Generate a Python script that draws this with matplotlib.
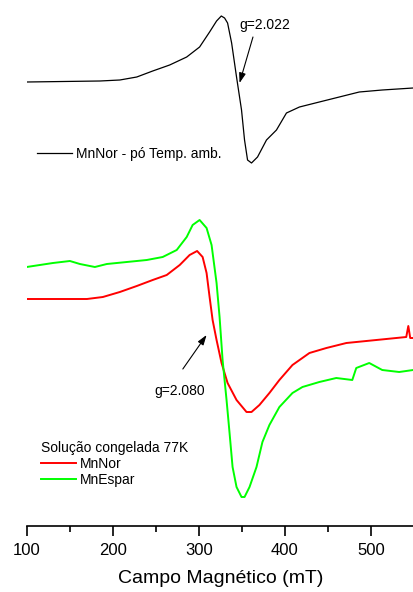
import matplotlib
matplotlib.use('Agg')
import matplotlib.pyplot as plt
from matplotlib.lines import Line2D

plt.rcParams['font.family'] = ['Liberation Sans', 'DejaVu Sans']

# Campo magnético (mT) and intensity (a.u., stacked offsets)
campo_po = [100, 185, 208.2, 227.9, 246.4, 266.1, 285.9, 300.9, 312.5, 320.6, 326.1,
            329.9, 333.4, 338.1, 343.8, 349.6, 353.1, 356.6, 361.2, 368.2, 378.6,
            390.2, 401.8, 416.9, 440, 463.2, 486.4, 513.1, 549]
mnnor_po = [444, 445, 446, 449, 455, 461, 469, 479, 494, 505, 510,
            508, 503, 483, 449, 416, 386, 366, 363, 369, 386,
            396, 413, 419, 424, 429, 434, 436, 438]

campo_nor = [100, 170, 188.5, 208.2, 227.9, 246.4, 262.7, 277.8, 289.3, 298, 304.4,
             309, 312.5, 316, 320.6, 326.4, 333.4, 343.8, 355.4, 361.2, 370.4, 382,
             393.6, 408.8, 428.5, 448.2, 471.4, 494.6, 517.8, 541, 543.4, 545.6, 549]
mnnor_sol = [227, 227, 229, 234, 240, 246, 251, 261, 271, 275, 269,
             253, 229, 206, 186, 163, 143, 126, 114, 114, 121, 133,
             146, 161, 173, 178, 183, 185, 187, 189, 200, 188, 188]

campo_esp = [100, 130.5, 150.2, 161.8, 179.2, 193.1, 216.3, 239.5, 258, 274.3, 285.9,
             292.8, 300.9, 309, 314.8, 320.6, 324.1, 327.6, 332.2, 335.7, 339.2, 343.8,
             349.6, 353.1, 358.9, 367, 373.9, 382, 393.6, 408.8, 420.4, 440, 459.7,
             478.3, 482.9, 498, 513.1, 532.8, 549]
mnespar_sol = [259, 263, 265, 262, 259, 262, 264, 266, 269, 276, 289,
               301, 306, 298, 281, 243, 209, 166, 126, 93, 59, 39,
               29, 29, 39, 59, 84, 101, 119, 133, 139, 144, 148,
               146, 158, 163, 156, 154, 156]

fig = plt.figure(figsize=(4.14, 5.92), dpi=100)
ax = fig.add_axes([26.7 / 414, 66 / 592, 1 - 26.7 / 414, 526 / 592])

ax.plot(campo_po, mnnor_po, color='black', lw=0.9)
ax.plot(campo_nor, mnnor_sol, color='#ff0000', lw=1.4)
ax.plot(campo_esp, mnespar_sol, color='#00ff00', lw=1.4)

ax.set_xlim(100, 549)
ax.set_ylim(0, 526)

for s in ['top', 'left', 'right']:
    ax.spines[s].set_visible(False)
ax.spines['bottom'].set_linewidth(1.2)
ax.set_yticks([])
ax.set_xticks([100, 200, 300, 400, 500])
ax.set_xticks([150, 250, 350, 450, 550], minor=True)
ax.tick_params(axis='x', which='major', direction='out', length=7, width=1.2,
               labelsize=12, pad=5)
ax.tick_params(axis='x', which='minor', direction='out', length=4, width=1.2)
ax.set_xlabel('Campo Magnético (mT)', fontsize=14, labelpad=9)

# g-value annotations
ax.annotate('', xy=(347.3, 443), xytext=(362.9, 489),
            arrowprops=dict(arrowstyle='-|>,head_length=0.6,head_width=0.2',
                            color='black', lw=0.8, shrinkA=0, shrinkB=0))
ax.text(347.4, 501, 'g=2.022', fontsize=10, va='center', ha='left')

ax.annotate('', xy=(309, 191), xytext=(281.4, 157),
            arrowprops=dict(arrowstyle='-|>,head_length=0.6,head_width=0.2',
                            color='black', lw=0.8, shrinkA=0, shrinkB=0))
ax.text(248.8, 135, 'g=2.080', fontsize=10, va='center', ha='left')

# legends
h_po = [Line2D([], [], color='black', lw=0.9)]
leg1 = fig.legend(h_po, ['MnNor - pó Temp. amb.'], loc='center left',
                  bbox_to_anchor=(37 / 414, 1 - 154 / 592), frameon=False,
                  fontsize=10, handlelength=2.5, handletextpad=0.3,
                  borderpad=0, borderaxespad=0)

h_sol = [Line2D([], [], color='#ff0000', lw=1.4),
         Line2D([], [], color='#00ff00', lw=1.4)]
leg2 = fig.legend(h_sol, ['MnNor', 'MnEspar'], loc='upper left',
                  bbox_to_anchor=(41 / 414, 1 - 441 / 592), frameon=False,
                  fontsize=10, title='Solução congelada 77K', title_fontsize=10,
                  alignment='left', handlelength=2.5, handletextpad=0.3,
                  labelspacing=0.15, borderpad=0, borderaxespad=0)

fig.savefig('out.png', dpi=100)
